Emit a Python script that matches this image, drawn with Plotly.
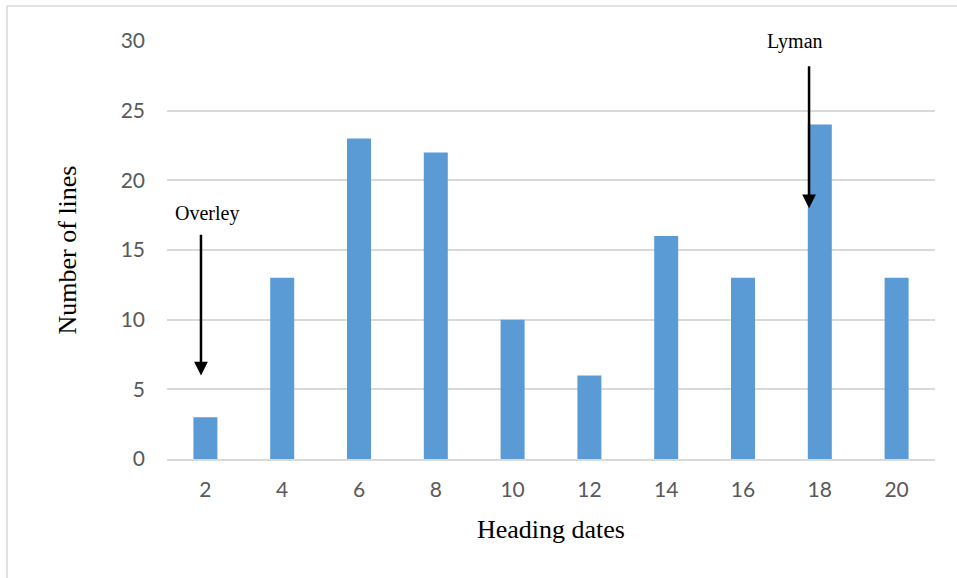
import plotly.graph_objects as go

# Distribution of lines by heading date
heading_dates = [2, 4, 6, 8, 10, 12, 14, 16, 18, 20]
line_counts = [3, 13, 23, 22, 10, 6, 16, 13, 24, 13]
y_ticks = [0, 5, 10, 15, 20, 25, 30]

BAR = "#5b9bd5"
GRID = "#d9d9d9"
TICK = "#595959"
SERIF = "Liberation Serif, Times New Roman, serif"
SANS = "Lato, Carlito, Calibri, sans-serif"

fig = go.Figure(
    go.Bar(
        x=heading_dates,
        y=line_counts,
        width=0.625,
        marker=dict(color=BAR, line=dict(width=0)),
        hoverinfo="x+y",
    )
)

fig.update_layout(
    width=957,
    height=578,
    margin=dict(l=167, r=22, t=41, b=119),
    paper_bgcolor="white",
    plot_bgcolor="white",
    showlegend=False,
    xaxis=dict(
        range=[1, 21],
        tickvals=heading_dates,
        ticktext=[str(v) for v in heading_dates],
        showgrid=False,
        zeroline=False,
        showline=True,
        linecolor=GRID,
        linewidth=2,
        ticks="",
        tickfont=dict(family=SANS, size=21, color=TICK),
        ticklabelstandoff=11,
        title=dict(text="Heading dates", font=dict(family=SERIF, size=26, color="black"), standoff=20),
    ),
    yaxis=dict(
        range=[0, 30],
        tickvals=y_ticks,
        showgrid=True,
        gridcolor=GRID,
        gridwidth=1.5,
        zeroline=False,
        showline=False,
        ticks="",
        tickfont=dict(family=SANS, size=21, color=TICK),
        ticklabelstandoff=21,
        title=dict(text="Number of lines", font=dict(family=SERIF, size=26, color="black"), standoff=36),
    ),
)

# Outer frame (top and left edges)
fig.add_shape(type="line", xref="paper", yref="paper", x0=-0.2083, x1=1.05, y0=1.0837, y1=1.0837,
              line=dict(color=GRID, width=1.5))
fig.add_shape(type="line", xref="paper", yref="paper", x0=-0.2083, x1=-0.2083, y0=1.0837, y1=-0.3,
              line=dict(color=GRID, width=1.5))

# Cultivar callouts
for label, tx, ty, x_arrow, y_from, y_to in [
    ("Overley", 2.04, 17.65, 1.885, 16.2, 6.0),
    ("Lyman", 17.35, 30.0, 17.72, 28.3, 18.0),
]:
    fig.add_annotation(x=tx, y=ty, xref="x", yref="y", text=label, showarrow=False,
                       font=dict(family=SERIF, size=20, color="black"))
    fig.add_annotation(x=x_arrow, y=y_to, ax=x_arrow, ay=y_from, xref="x", yref="y",
                       axref="x", ayref="y", text="", showarrow=True,
                       arrowhead=2, arrowsize=1.1, arrowwidth=2.5, arrowcolor="black")

fig.write_html("out.html")
